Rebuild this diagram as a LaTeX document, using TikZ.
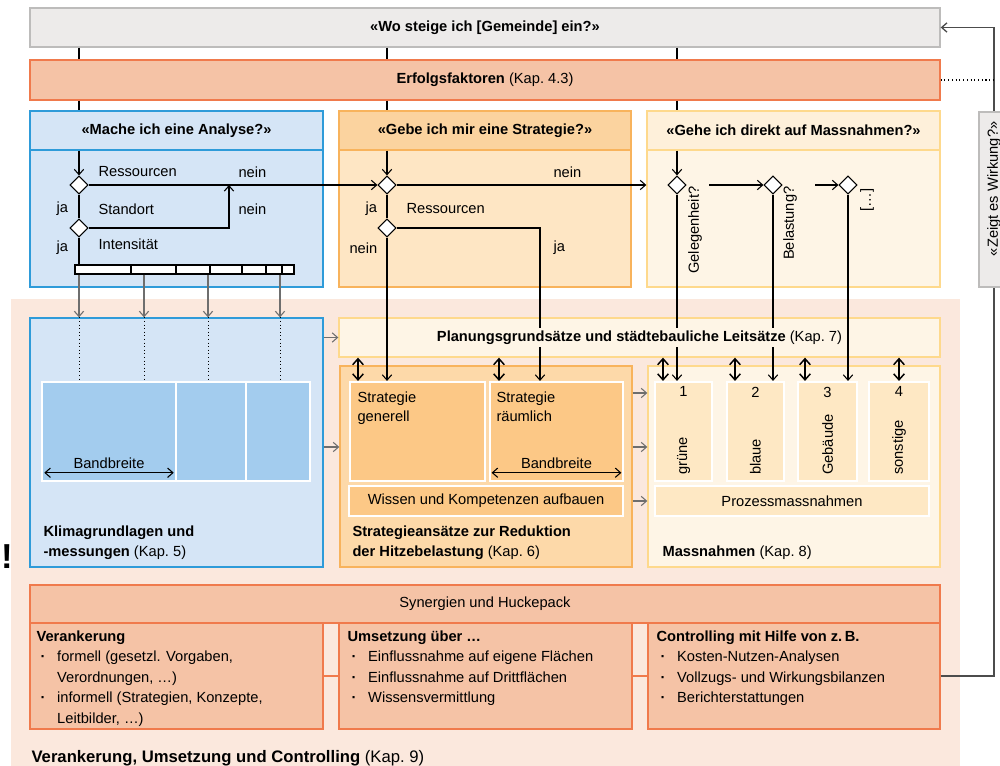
\documentclass[tikz,border=0pt]{standalone}
\usepackage{fontspec}
\setmainfont{Liberation Sans}
\usetikzlibrary{arrows.meta, positioning, fit, shapes.geometric}

\definecolor{grayfill}{HTML}{EDEBEA}
\definecolor{grayline}{HTML}{BDBCBB}
\definecolor{salmon}{HTML}{F5C3A6}
\definecolor{salmonline}{HTML}{F07A4C}
\definecolor{salmonbg}{HTML}{FBE8DD}
\definecolor{bluefill}{HTML}{D5E5F6}
\definecolor{blueline}{HTML}{2E9BD9}
\definecolor{bluecell}{HTML}{A3CCEE}
\definecolor{orhead}{HTML}{FBD39F}
\definecolor{orbody}{HTML}{FEE6C4}
\definecolor{orline}{HTML}{F8B35C}
\definecolor{orlow}{HTML}{FDD9A9}
\definecolor{orcell}{HTML}{FCC886}
\definecolor{ylhead}{HTML}{FEF0DA}
\definecolor{ylbody}{HTML}{FEF5E6}
\definecolor{ylline}{HTML}{FED98C}
\definecolor{ylcell}{HTML}{FEE8C4}
\definecolor{arrgray}{HTML}{6E6E6E}

\newcommand{\dgfont}{\fontsize{11}{15.4}\selectfont}
\newcommand{\bul}{\makebox[15.5pt][l]{\hspace{3pt}\textbf{·}}}
\newcommand{\ind}{\hspace*{15.5pt}}

\begin{document}
\begin{tikzpicture}[x=0.75pt, y=-0.75pt, font=\dgfont, line width=0.8pt, >={Straight Barb[length=4pt,width=7pt]}]
        \tikzstyle{frame}=[draw, inner sep=0pt, line width=1pt]
        \tikzstyle{cell}=[draw=white, line width=1.6pt, inner sep=0pt]
        \tikzstyle{decision}=[diamond, draw, fill=white, inner sep=0pt, minimum width=13.5pt, minimum height=13.5pt, line width=0.8pt]
        \tikzstyle{lbl}=[anchor=west, inner sep=0pt]
        \tikzstyle{vlbl}=[rotate=90, inner sep=0pt]
        \tikzstyle{updown}=[<->, line width=1.1pt, >={Straight Barb[length=4.5pt,width=8pt]}]
        \tikzstyle{feed}=[->, arrgray]
        \useasboundingbox (0,0) rectangle (1000,766);
        \fill[white] (0,0) rectangle (1000,766);
        \fill[salmonbg] (11,299) rectangle (960,766);

        \node[frame, draw=grayline, fill=grayfill, fit={(30,8) (940,47)}, label=center:{\bfseries «Wo steige ich [Gemeinde] ein?»}] (einstieg) {};
        \node[frame, draw=salmonline, fill=salmon, fit={(30,60) (940,100)}, label=center:{\textbf{Erfolgsfaktoren} (Kap.~4.3)}] (erfolg) {};

        \node[frame, draw=blueline, fill=bluefill, fit={(30,150) (323,287)}] (analyseb) {};
        \node[frame, draw=blueline, fill=bluefill, fit={(30,111) (323,150)}, label=center:{\bfseries «Mache ich eine Analyse?»}] (analyse) {};
        \node[frame, draw=orline, fill=orbody, fit={(339,150) (631,287)}] (strategieb) {};
        \node[frame, draw=orline, fill=orhead, fit={(339,111) (631,150)}, label=center:{\bfseries «Gebe ich mir eine Strategie?»}] (strategie) {};
        \node[frame, draw=ylline, fill=ylbody, fit={(647,150) (940,287)}] (direktb) {};
        \node[frame, draw=ylline, fill=ylhead, fit={(647,111) (940,150)}, label=center:{\bfseries «Gehe ich direkt auf Massnahmen?»}] (direkt) {};

        \node[decision] (a1) at (79,185) {};
        \node[decision] (a2) at (79,228) {};
        \node[decision] (b1) at (387,185) {};
        \node[decision] (b2) at (387,228) {};
        \node[decision] (c1) at (677,185) {};
        \node[decision] (c2) at (773,185) {};
        \node[decision] (c3) at (848,185) {};

        \node[lbl] (ta1) at (98,172) {Ressourcen};
        \node[lbl] (ta2) at (238,172) {nein};
        \node[lbl] (ta3) at (56,209) {ja};
        \node[lbl] (ta4) at (98,209) {Standort};
        \node[lbl] (ta5) at (238,209) {nein};
        \node[lbl] (ta6) at (56,248) {ja};
        \node[lbl] (ta7) at (98,244) {Intensität};
        \node[lbl] (tb1) at (553,172) {nein};
        \node[lbl] (tb2) at (365,209) {ja};
        \node[lbl] (tb3) at (406,209) {Ressourcen};
        \node[lbl] (tb4) at (349,248) {nein};
        \node[lbl] (tb5) at (553,248) {ja};
        \node[vlbl, anchor=east] (tc1) at (695,186) {Gelegenheit?};
        \node[vlbl, anchor=east] (tc2) at (790,186) {Belastung?};
        \node[vlbl, anchor=east] (tc3) at (867,188) {[…]};

        \node[draw, fill=white, inner sep=0pt, fit={(75,265) (294,274)}] (band) {};
        \foreach \x in {131,176,210,242,266,282}
            \draw (band.north -| \x,0) -- (band.south -| \x,0);

        \node[frame, draw=blueline, fill=bluefill, fit={(30,318) (323,567)}] (klima) {};
        \node[cell, fill=bluecell, fit={(42,382) (176,481)}] (k1) {};
        \node[cell, fill=bluecell, fit={(176,382) (246,481)}] (k2) {};
        \node[cell, fill=bluecell, fit={(246,382) (310,481)}] (k3) {};
        \node[inner sep=0pt] (kband) at ([yshift=14pt]k1.south) {Bandbreite};
        \draw[<->] ([xshift=2.5pt, yshift=7pt]k1.south west) -- ([xshift=-2.5pt, yshift=7pt]k1.south east);
        \node[anchor=north west, align=left, inner sep=0pt] (klimatxt) at (43,525) {\textbf{Klimagrundlagen und}\\\textbf{-messungen} (Kap.~5)};

        \node[frame, draw=ylline, fill=ylbody, fit={(339,318) (940,357)}] (plan) {};

        \node[frame, draw=orline, fill=orlow, fit={(340,366) (632,567)}] (ansatz) {};
        \node[cell, fill=orcell, fit={(350,382) (485,481)}] (generell) {};
        \node[cell, fill=orcell, fit={(490,382) (623,481)}] (raeumlich) {};
        \node[cell, fill=orcell, fit={(349,486) (623,516)}, label=center:{Wissen und Kompetenzen aufbauen}] (wissen) {};
        \node[anchor=north west, align=left, inner sep=0pt, font=\fontsize{11}{14.3}\selectfont] (gentxt) at (357,391) {Strategie\\generell};
        \node[anchor=north west, align=left, inner sep=0pt, font=\fontsize{11}{14.3}\selectfont] (raumtxt) at (496,391) {Strategie\\räumlich};
        \node[inner sep=0pt] (rband) at ([yshift=14pt]raeumlich.south) {Bandbreite};
        \draw[<->] ([xshift=2pt, yshift=7pt]raeumlich.south west) -- ([xshift=-2pt, yshift=7pt]raeumlich.south east);
        \node[anchor=north west, align=left, inner sep=0pt] (ansatztxt) at (352,525) {\textbf{Strategieansätze zur Reduktion}\\\textbf{der Hitzebelastung} (Kap.~6)};

        \node[frame, draw=ylline, fill=ylbody, fit={(648,366) (940,567)}] (mass) {};
        \foreach \n/\l/\r/\t in {1/655/712/grüne, 2/727/784/blaue, 3/798/857/Gebäude, 4/869/929/sonstige} {
            \node[cell, fill=ylcell, fit={(\l,382) (\r,481)}] (m\n) {};
            \node[anchor=north, inner sep=0pt] (mn\n) at ([yshift=-4pt]m\n.north) {\n};
            \node[vlbl, anchor=west] (mt\n) at ([yshift=5pt]m\n.south) {\t};
        }
        \node[cell, fill=ylcell, fit={(655,486) (929,516)}, label=center:{Prozessmassnahmen}] (prozess) {};
        \node[anchor=north west, inner sep=0pt] (masstxt) at (662,545) {\textbf{Massnahmen} (Kap.~8)};

        \node[frame, draw=salmonline, fill=salmon, fit={(30,585) (940,623)}, label=center:{Synergien und Huckepack}] (synergie) {};
        \node[frame, draw=salmonline, fill=salmon, fit={(30,623) (323,729)}] (veran) {};
        \node[frame, draw=salmonline, fill=salmon, fit={(339,623) (632,729)}] (umsetz) {};
        \node[frame, draw=salmonline, fill=salmon, fit={(648,623) (940,729)}] (contr) {};
        \draw[salmonline, line width=1pt] (veran.east) -- (umsetz.west);
        \draw[salmonline, line width=1pt] (umsetz.east) -- (contr.west);
        \node[anchor=north west, align=left, inner sep=0pt] (vertxt) at (36,630) {\textbf{Verankerung}\\\bul formell (gesetzl. Vorgaben,\\\ind Verordnungen, …)\\\bul informell (Strategien, Konzepte,\\\ind Leitbilder, …)};
        \node[anchor=north west, align=left, inner sep=0pt] (umstxt) at (347,630) {\textbf{Umsetzung über …}\\\bul Einflussnahme auf eigene Flächen\\\bul Einflussnahme auf Drittflächen\\\bul Wissensvermittlung};
        \node[anchor=north west, align=left, inner sep=0pt] (contxt) at (656,630) {\textbf{Controlling mit Hilfe von z.\,B.}\\\bul Kosten-Nutzen-Analysen\\\bul Vollzugs- und Wirkungsbilanzen\\\bul Berichterstattungen};
        \node[anchor=base west, inner sep=0pt, font=\fontsize{12.5}{15}\selectfont] (kap9) at (31,762) {\textbf{Verankerung, Umsetzung und Controlling} (Kap.~9)};
        \node[inner sep=0pt, font=\fontsize{26}{26}\selectfont\bfseries] (bang) at (7,557) {!};

        \foreach \d in {a1,b1,c1} {
            \draw (einstieg.south -| \d) -- (erfolg.north -| \d);
            \draw (erfolg.south -| \d) -- (analyse.north -| \d);
        }
        \draw[->] (analyse.south -| a1) -- (a1);
        \draw[->] (strategie.south -| b1) -- (b1);
        \draw[->] (direkt.south -| c1) -- (c1);
        \draw (a1) -- (a2);
        \draw (a2) -- (band.north -| a2);
        \draw[->] (a1) -- (b1);
        \coordinate (j1) at (229,185);
        \draw[->] (a2) -| (j1);
        \draw (b1) -- (b2);
        \draw[->] (b1) -- (direktb.west |- b1);
        \draw[->] (b2) -- (generell.north -| b2);
        \coordinate (j2) at (540,228);
        \draw[->] (b2) -- (j2) -- (raeumlich.north -| j2);
        \coordinate (j3) at (709,185);
        \coordinate (j4) at (815,185);
        \draw[->] (j3) -- (c2);
        \draw[->] (j4) -- (c3);
        \draw[->] (c1) -- (m1.north -| c1);
        \draw[->] (c2) -- (m2.north -| c2);
        \draw[->] (c3) -- (m3.north -| c3);

        \foreach \x in {79,144,208,280} {
            \draw[feed] (band.south -| \x,0) -- (klima.north -| \x,0);
            \draw[dotted, line width=0.7pt] (klima.north -| \x,0) -- (k1.north -| \x,0);
        }
        \node[fill=ylbody, inner xsep=0pt, inner ysep=2pt] (plantxt) at (plan.center) {\textbf{Planungsgrundsätze und städtebauliche Leitsätze} (Kap.~7)};
        \foreach \x in {358,499,663,735,805,899}
            \draw[updown] (plan.south -| \x,0) -- (generell.north -| \x,0);
        \draw[feed] (klima.east |- plan.west) -- (plan.west);
        \draw[feed] (klima.east |- 0,447) -- (ansatz.west |- 0,447);
        \foreach \y in {393,447,501}
            \draw[feed] (ansatz.east |- 0,\y) -- (mass.west |- 0,\y);

        \coordinate (fb) at (994,676);
        \draw[->, black!70, line width=1pt] (contr.east) -- (fb) |- (einstieg.east);
        \draw[dotted] (erfolg.east) -- (erfolg.east -| fb);
        \node[frame, draw=grayline, fill=grayfill, fit={(979,112) (1010,287)}] (wirkung) {};
        \node[vlbl, anchor=east] (wirkungtxt) at (994,121) {«Zeigt es Wirkung?»};
    \end{tikzpicture}
\end{document}
